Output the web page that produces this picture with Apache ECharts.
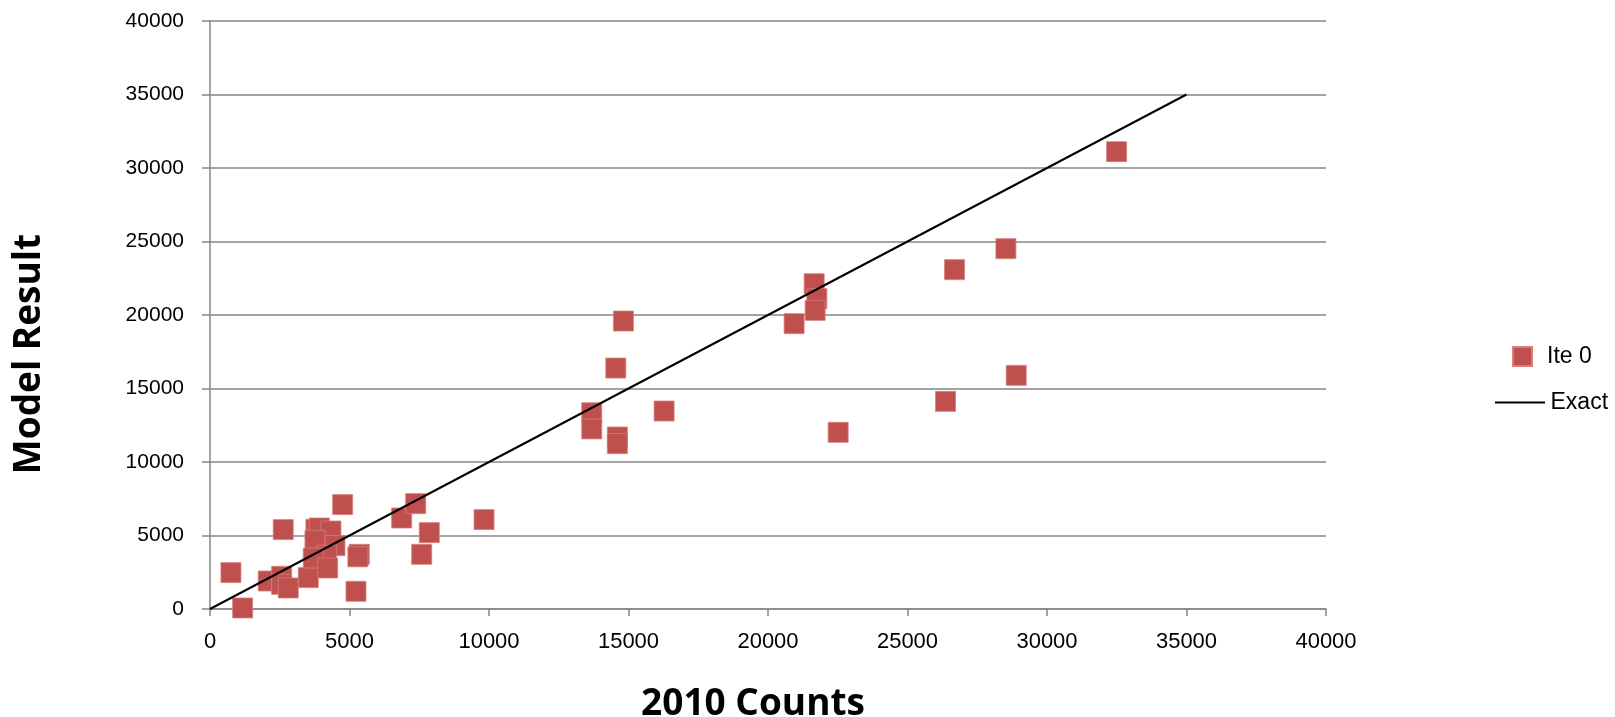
<!DOCTYPE html>
<html>
<head>
<meta charset="utf-8">
<script src="https://cdn.jsdelivr.net/npm/echarts@6/dist/echarts.min.js"></script>
<style>
  html, body { margin: 0; padding: 0; background: #fff; }
  #chart { width: 1615px; height: 717px; }
</style>
</head>
<body>
<div id="chart"></div>
<script>
// 2010 counts vs. model result (iteration 0)
const countsX = [
  750, 1170, 2625, 2087, 2567, 2567, 2805, 3523, 3797, 3917,
  4335, 4479, 3762, 4181, 3702, 4217, 4755, 5350, 5300, 5232,
  6870, 7373, 7860, 7588, 9822,
  13683, 13683, 14545, 14818, 14601, 14601, 16276,
  20936, 21655, 21750, 21690, 22515,
  26363, 26686, 28527, 28897, 32495
];
const modelY = [
  2475, 70, 5400, 1905, 2224, 1680, 1430, 2135, 5420, 5510,
  5305, 4312, 4673, 3652, 3469, 2789, 7101, 3720, 3550, 1204,
  6190, 7168, 5196, 3720, 6080,
  13350, 12250, 16392, 19590, 11700, 11250, 13469,
  19412, 22130, 21110, 20316, 12018,
  14127, 23084, 24513, 15894, 31110
];
const exactX = [0, 35000];
const exactY = [0, 35000];
const axisTicks = [0, 5000, 10000, 15000, 20000, 25000, 30000, 35000, 40000];

const points = countsX.map((x, i) => [x, modelY[i]]);
const exactLine = exactX.map((x, i) => [x, exactY[i]]);

const chart = echarts.init(document.getElementById('chart'), null, { renderer: 'canvas' });
const gridGrey = '#868686';
const titleFont = 'bold 37px "Open Sans"';

chart.setOption({
  animation: false,
  backgroundColor: '#ffffff',
  grid: { left: 210, right: 289, top: 21, bottom: 108, containLabel: false },
  xAxis: {
    type: 'value',
    min: axisTicks[0], max: axisTicks[axisTicks.length - 1], interval: 5000,
    axisLine: { show: true, onZero: false, lineStyle: { color: gridGrey, width: 1.5 } },
    axisTick: { show: true, inside: false, length: 7, lineStyle: { color: gridGrey, width: 1.5 } },
    axisLabel: {
      margin: 22, formatter: v => String(v),
      fontFamily: 'Liberation Sans', fontSize: 22, color: '#000'
    },
    splitLine: { show: false }
  },
  yAxis: {
    type: 'value',
    min: axisTicks[0], max: axisTicks[axisTicks.length - 1], interval: 5000,
    axisLine: { show: true, lineStyle: { color: gridGrey, width: 1.5 } },
    axisTick: { show: true, inside: false, length: 8, lineStyle: { color: gridGrey, width: 1.5 } },
    axisLabel: {
      margin: 26, formatter: v => String(v),
      fontFamily: 'Liberation Sans', fontSize: 21, color: '#000'
    },
    splitLine: { show: true, lineStyle: { color: gridGrey, width: 1.5 } }
  },
  graphic: [
    {
      type: 'text', x: 29, y: 354, rotation: Math.PI / 2,
      style: { text: 'Model Result', font: titleFont, fill: '#000', align: 'center', verticalAlign: 'middle' }
    },
    {
      type: 'text', x: 753, y: 704,
      style: { text: '2010 Counts', font: titleFont, fill: '#000', align: 'center', verticalAlign: 'middle' }
    }
  ],
  legend: [
    {
      data: [{ name: 'Ite 0', icon: 'rect' }],
      left: 1507, top: 340,
      itemWidth: 19, itemHeight: 19, itemGap: 0,
      textStyle: { fontFamily: 'Liberation Sans', fontSize: 23, color: '#000', padding: [0, 0, 0, 10] }
    },
    {
      data: [{ name: 'Exact', icon: 'path://M0,0 H50 V2 H0 Z' }],
      left: 1490, top: 386,
      itemWidth: 53, itemHeight: 2, itemGap: 0,
      itemStyle: { color: '#000' },
      textStyle: { fontFamily: 'Liberation Sans', fontSize: 23, color: '#000', padding: [0, 0, 0, -1] }
    }
  ],
  series: [
    {
      name: 'Ite 0',
      type: 'scatter',
      data: points,
      symbol: 'rect',
      symbolSize: 20,
      itemStyle: { color: '#C0504D', borderColor: '#D77E7B', borderWidth: 0.8, opacity: 1 },
      z: 2
    },
    {
      name: 'Exact',
      type: 'line',
      data: exactLine,
      symbol: 'none',
      lineStyle: { color: '#000', width: 2 },
      itemStyle: { color: '#000' },
      z: 3
    }
  ]
});
</script>
</body>
</html>
